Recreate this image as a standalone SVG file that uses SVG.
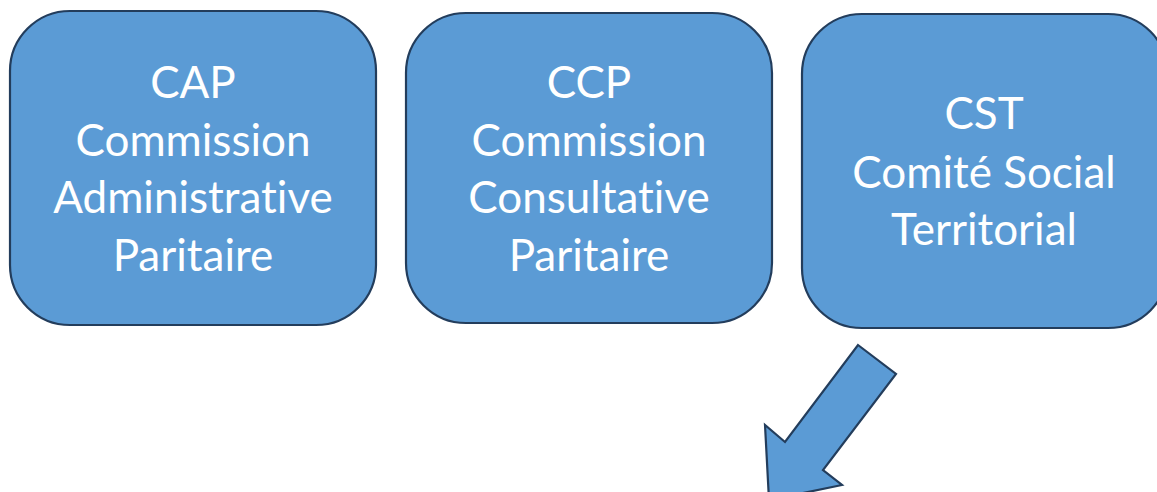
<svg xmlns="http://www.w3.org/2000/svg" width="1157" height="492" viewBox="0 0 1157 492">
<style>
.box{fill:#5B9BD5;stroke:#233D5C;stroke-width:2.2}
.t{font-family:Lato,"Liberation Sans",sans-serif;font-size:44px;fill:#FFFFFF;text-anchor:middle;font-variant-ligatures:none;font-feature-settings:"liga" 0}
</style>
<rect width="1157" height="492" fill="#FFFFFF"/>
<g id="cap">
<rect class="box" x="10" y="11" width="366" height="314" rx="60" ry="60"/>
<text class="t" x="193" y="98">CAP</text>
<text class="t" x="193" y="156">Commission</text>
<text class="t" x="193" y="213">Administrative</text>
<text class="t" x="193" y="271">Paritaire</text>
</g>
<g id="ccp">
<rect class="box" x="406" y="13" width="366" height="310" rx="60" ry="60"/>
<text class="t" x="589" y="98">CCP</text>
<text class="t" x="589" y="156">Commission</text>
<text class="t" x="589" y="213">Consultative</text>
<text class="t" x="589" y="271">Paritaire</text>
</g>
<g id="cst">
<rect class="box" x="802" y="14" width="366" height="314" rx="60" ry="60"/>
<text class="t" x="984" y="129">CST</text>
<text class="t" x="984" y="188">Comité Social</text>
<text class="t" x="984" y="245">Territorial</text>
</g>
<g id="connectors">
<polygon class="box" points="858,345 896,374 823,470 842,485 769,500 765,425 785,442"/>
</g>
</svg>
